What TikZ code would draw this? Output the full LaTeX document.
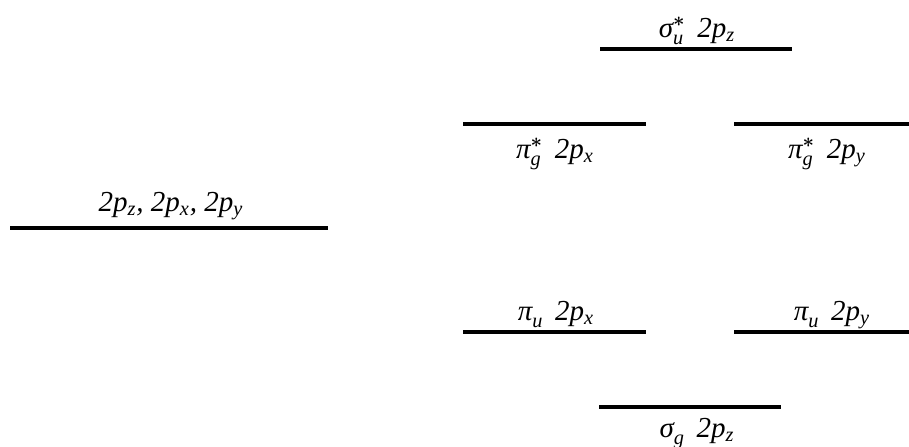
\documentclass[tikz,border=0pt]{standalone}
\usepackage{amsmath}
\usepackage{fontspec}
\setmainfont{Liberation Serif}
\newcommand{\ip}{\textit{p}}
\newcommand{\orb}[3]{\textit{#1}$^{#2}_{\textit{#3}}$}
\tikzset{
  level/.style={line width=1.6pt},
  lab/.style={anchor=base,inner sep=0pt,font=\fontsize{14.5}{17}\selectfont\itshape}
}
\begin{document}
\begin{tikzpicture}[x=0.5pt,y=-0.5pt]
\useasboundingbox (0,0) rectangle (909,446);
% levels
\draw[level] (10,228) -- (328,228);
\draw[level] (600,49) -- (792,49);
\draw[level] (463,124) -- (646,124);
\draw[level] (734,124) -- (909,124);
\draw[level] (463,332) -- (646,332);
\draw[level] (734,332) -- (909,332);
\draw[level] (599,407) -- (781,407);
% labels
\node[lab] (atom) at (171,211) {2\ip$_{\textit{z}}$, 2\ip$_{\textit{x}}$, 2\ip$_{\textit{y}}$};
\node[lab] (su) at (697,37) {\orb{σ}{\boldsymbol{*}}{u}\hspace{0.4em}2\ip$_{\textit{z}}$};
\node[lab] (pgx) at (555,158) {\orb{π}{\boldsymbol{*}}{g}\hspace{0.4em}2\ip$_{\textit{x}}$};
\node[lab] (pgy) at (827,158) {\orb{π}{\boldsymbol{*}}{g}\hspace{0.4em}2\ip$_{\textit{y}}$};
\node[lab] (pux) at (556,320) {\orb{π}{}{u}\hspace{0.4em}2\ip$_{\textit{x}}$};
\node[lab] (puy) at (832,320) {\orb{π}{}{u}\hspace{0.4em}2\ip$_{\textit{y}}$};
\node[lab] (sg) at (697,437) {\orb{σ}{}{g}\hspace{0.4em}2\ip$_{\textit{z}}$};
\end{tikzpicture}
\end{document}
